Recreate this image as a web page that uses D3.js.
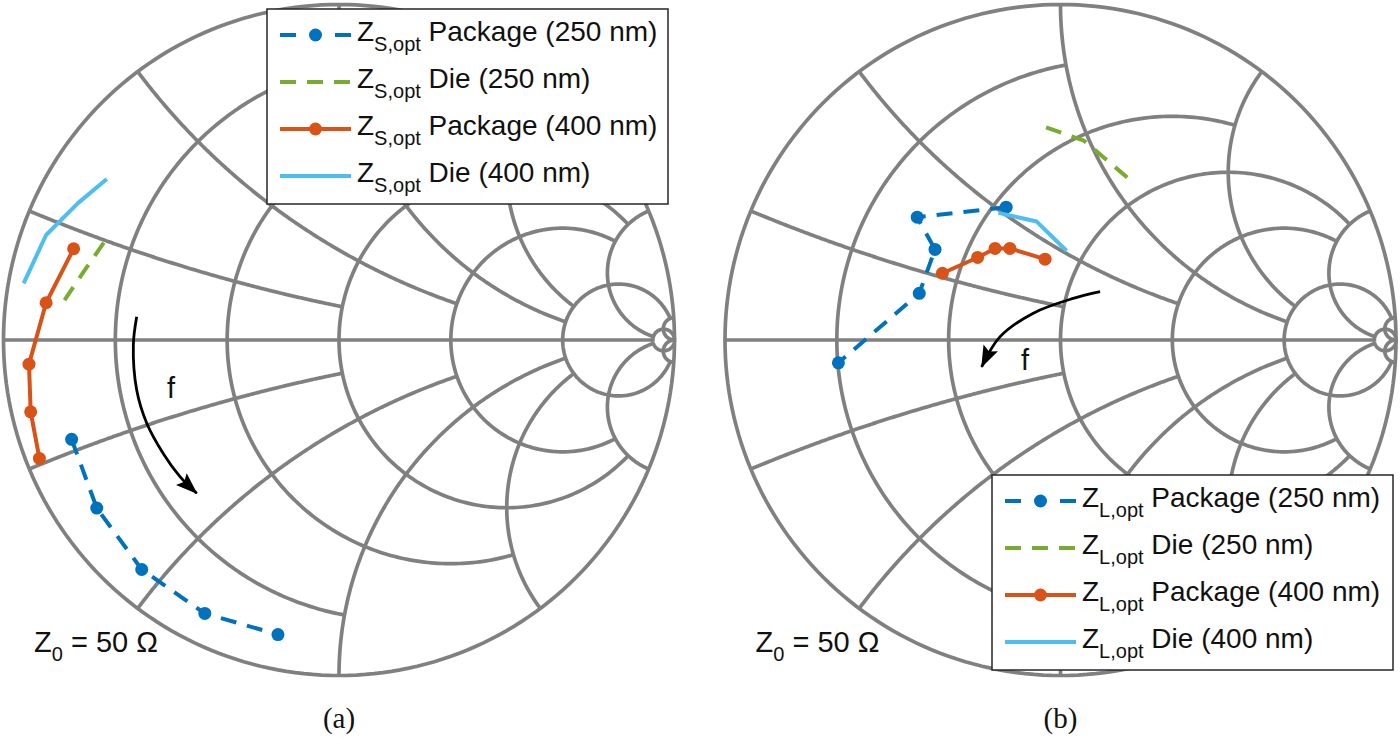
<!DOCTYPE html>
<html lang="en">
<head>
<meta charset="UTF-8" />
<title>smith</title>
<style>
  body { margin: 0; background: #fff; }
  svg { display: block; }
  text { font-family: "Liberation Sans", Arial, Helvetica, sans-serif; fill: #111; }
</style>
</head>
<body>
<div id="chart"></div>
<script src="https://d3js.org/d3.v7.min.js"></script>
<script>
// reflection coefficient [re, im]
// (a) source side Z_S,opt
var srcPkg250 = [[-0.797, -0.296], [-0.722, -0.501], [-0.588, -0.684], [-0.400, -0.815], [-0.182, -0.878]];
var srcDie250 = [[-0.701, 0.290], [-0.760, 0.205], [-0.818, 0.119]];
var srcPkg400 = [[-0.791, 0.272], [-0.873, 0.111], [-0.924, -0.072], [-0.919, -0.214], [-0.893, -0.353]];
var srcDie400 = [[-0.692, 0.480], [-0.778, 0.408], [-0.873, 0.313], [-0.940, 0.169]];

// (b) load side Z_L,opt
var loadPkg250 = [[-0.162, 0.396], [-0.427, 0.366], [-0.374, 0.270], [-0.421, 0.139], [-0.662, -0.068]];
var loadDie250 = [[-0.043, 0.634], [0.070, 0.594], [0.203, 0.481]];
var loadPkg400 = [[-0.352, 0.199], [-0.247, 0.246], [-0.195, 0.273], [-0.151, 0.273], [-0.046, 0.241]];
var loadDie400 = [[-0.185, 0.379], [-0.071, 0.353], [0.018, 0.266]];

// frequency arrows and "f" labels (gamma plane)
var srcArrow = [[-0.603, 0.069], [-0.613, -0.015], [-0.603, -0.149], [-0.573, -0.248], [-0.524, -0.338], [-0.474, -0.407], [-0.424, -0.457]];
var loadArrow = [[0.118, 0.144], [0.038, 0.124], [-0.081, 0.080], [-0.180, 0.010], [-0.235, -0.080]];
var srcF = [-0.501, -0.143];
var loadF = [-0.106, -0.060];

var legendLabels = ["Package (250 nm)", "Die (250 nm)", "Package (400 nm)", "Die (400 nm)"];

// smith grid: circle value and the value where it stops
var gridValues = [0.2, 0.5, 1, 2, 5, 30];
var gridEnds = [1, 2, 5, 5, 30, Infinity];

var W = 1400, H = 756, R = 335.5;
var gridColor = "#808080";

var styles = [
  { color: "#0072BD", dash: "16,11", marker: true },
  { color: "#77AC30", dash: "16,11", marker: false },
  { color: "#D95319", dash: null, marker: true },
  { color: "#4DBEEE", dash: null, marker: false }
];

var panels = [
  { cx: 339, cy: 340, sub: "S,opt", data: [srcPkg250, srcDie250, srcPkg400, srcDie400],
    arrow: srcArrow, f: srcF, lx: 267, ly: 9, caption: "(a)" },
  { cx: 1060.5, cy: 340, sub: "L,opt", data: [loadPkg250, loadDie250, loadPkg400, loadDie400],
    arrow: loadArrow, f: loadF, lx: 992, ly: 475, caption: "(b)" }
];

// z = r + jx  ->  gamma
function gam(r, x) {
  var d = (r + 1) * (r + 1) + x * x;
  return [(r * r - 1 + x * x) / d, (2 * x) / d];
}

function rCircle(r, lim) {
  var c = r / (1 + r), rad = 1 / (1 + r);
  var a = 0;
  if (isFinite(lim)) {
    var g = gam(r, lim);
    a = Math.atan2(g[1], g[0] - c);
  }
  return d3.range(0, 241).map(function (i) {
    var t = a + (2 * Math.PI - 2 * a) * i / 240;
    return [c + rad * Math.cos(t), rad * Math.sin(t)];
  });
}

function xArc(x, lim, sign) {
  var cy = 1 / x, rad = 1 / x;
  function ang(g) {
    var a = Math.atan2(g[1] - cy, g[0] - 1);
    if (a < Math.PI / 2) a += 2 * Math.PI;
    return a;
  }
  var a0 = ang(gam(0, x));
  var a1 = isFinite(lim) ? ang(gam(lim, x)) : 1.5 * Math.PI;
  return d3.range(0, 201).map(function (i) {
    var t = a0 + (a1 - a0) * i / 200;
    return [1 + rad * Math.cos(t), sign * (cy + rad * Math.sin(t))];
  });
}

var svg = d3.select("#chart").append("svg")
  .attr("width", W).attr("height", H)
  .style("background", "#fff");

var defs = svg.append("defs");
defs.append("marker")
  .attr("id", "head")
  .attr("viewBox", "0 0 22 16")
  .attr("refX", 21).attr("refY", 8)
  .attr("markerUnits", "userSpaceOnUse")
  .attr("markerWidth", 22).attr("markerHeight", 16)
  .attr("orient", "auto")
  .append("path")
  .attr("d", "M0,0L22,8L0,16L4,8Z")
  .attr("fill", "#000");

panels.forEach(function (p) {
  var xs = d3.scaleLinear().domain([-1, 1]).range([p.cx - R, p.cx + R]);
  var ys = d3.scaleLinear().domain([-1, 1]).range([p.cy + R, p.cy - R]);
  var line = d3.line().x(function (d) { return xs(d[0]); }).y(function (d) { return ys(d[1]); });

  var g = svg.append("g");

  // grid
  var grid = g.append("g")
    .attr("fill", "none")
    .attr("stroke", gridColor)
    .attr("stroke-width", 3.7);

  grid.append("path").attr("d", line(rCircle(0, Infinity)));
  grid.append("path").attr("d", line([[-1, 0], gam(gridEnds[4], 0)]));
  gridValues.forEach(function (v, i) {
    grid.append("path").attr("d", line(rCircle(v, gridEnds[i])));
    grid.append("path").attr("d", line(xArc(v, gridEnds[i], 1)));
    grid.append("path").attr("d", line(xArc(v, gridEnds[i], -1)));
  });

  // data
  p.data.forEach(function (d, i) {
    var s = styles[i];
    g.append("path")
      .attr("d", line(d))
      .attr("fill", "none")
      .attr("stroke", s.color)
      .attr("stroke-width", 4)
      .attr("stroke-dasharray", s.dash)
      .attr("stroke-linejoin", "round");
    if (s.marker) {
      g.selectAll(null).data(d).enter().append("circle")
        .attr("cx", function (e) { return xs(e[0]); })
        .attr("cy", function (e) { return ys(e[1]); })
        .attr("r", 6.5)
        .attr("fill", s.color);
    }
  });

  // frequency arrow
  g.append("path")
    .attr("d", line.curve(d3.curveCatmullRom)(p.arrow))
    .attr("fill", "none")
    .attr("stroke", "#000")
    .attr("stroke-width", 2.8)
    .attr("marker-end", "url(#head)");
  line.curve(d3.curveLinear);

  g.append("text")
    .attr("x", xs(p.f[0])).attr("y", ys(p.f[1]) + 10)
    .attr("text-anchor", "middle")
    .style("font-size", "29px")
    .text("f");

  // Z0 label
  var z0 = g.append("text")
    .attr("x", p.cx - 305).attr("y", 652)
    .style("font-size", "29px");
  z0.append("tspan").text("Z");
  z0.append("tspan").attr("dy", 9).style("font-size", "20px").text("0");
  z0.append("tspan").attr("dy", -9).text(" = 50 \u03A9");

  // caption
  g.append("text")
    .attr("x", p.cx).attr("y", 728)
    .attr("text-anchor", "middle")
    .style("font-family", "\"Liberation Serif\", \"Times New Roman\", serif")
    .style("font-size", "29px")
    .text(p.caption);

  // legend
  var lg = g.append("g").attr("transform", "translate(" + p.lx + "," + p.ly + ")");
  lg.append("rect")
    .attr("width", 401).attr("height", 195)
    .attr("fill", "#fff")
    .attr("stroke", "#262626")
    .attr("stroke-width", 1.5);
  legendLabels.forEach(function (lab, i) {
    var s = styles[i];
    var y = 26 + i * 47;
    lg.append("line")
      .attr("x1", 13).attr("x2", 84)
      .attr("y1", y).attr("y2", y)
      .attr("stroke", s.color)
      .attr("stroke-width", 4)
      .attr("stroke-dasharray", s.marker && s.dash ? "16,39" : s.dash);
    if (s.marker) {
      lg.append("circle").attr("cx", 48.5).attr("cy", y).attr("r", 6.5).attr("fill", s.color);
    }
    var t = lg.append("text")
      .attr("x", 90).attr("y", y + 6)
      .style("font-size", "28px");
    t.append("tspan").text("Z");
    t.append("tspan").attr("dy", 10).style("font-size", "20px").text(p.sub);
    t.append("tspan").attr("dy", -10).text(" " + lab);
  });
});
</script>
</body>
</html>
